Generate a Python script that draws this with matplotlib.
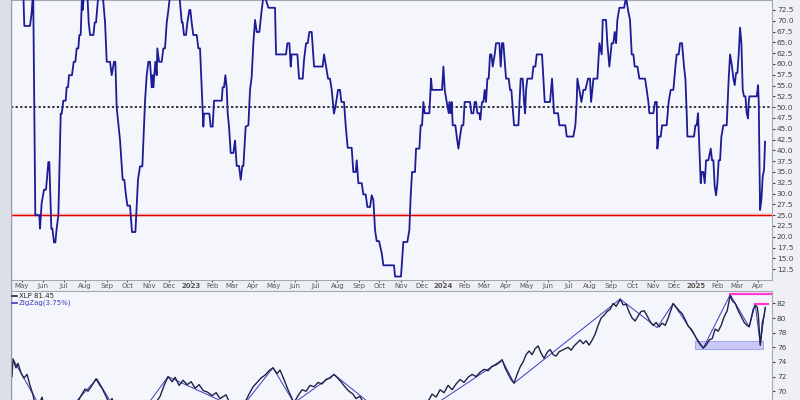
import numpy as np
import pandas as pd
import matplotlib
matplotlib.use("Agg")
import matplotlib.pyplot as plt
from matplotlib.patches import Rectangle
from matplotlib.lines import Line2D

# Tage seit dem 1. Mai 2022
start = pd.Timestamp("2022-05-01")

# Oszillator (oberes Panel)
osc_days = [2.4, 3.8, 12.0, 14.4, 16.6, 19.7, 25.5, 26.5, 28.9, 32.3, 35.2, 38.6, 40.0, 42.9, 44.4,
            46.8, 48.7, 50.6, 53.1, 56.5, 57.9, 60.3, 63.7, 65.1, 67.1, 68.5, 72.8, 75.3, 77.7, 79.6,
            82.0, 83.5, 85.4, 87.3, 88.3, 90.2, 95.1, 97.0, 99.0, 103.8, 105.7, 107.6, 111.0, 117.3,
            120.7, 123.1, 127.9, 130.3, 133.7, 135.6, 137.5, 142.4, 146.2, 148.6, 150.6, 153.0, 156.8,
            159.7, 164.6, 166.5, 168.4, 171.3, 174.7, 176.2, 178.6, 181.0, 183.4, 185.8, 188.2, 189.7,
            190.6, 193.5, 195.5, 196.4, 198.9, 202.7, 205.1, 207.5, 210.0, 212.4, 214.8, 228.3, 231.7,
            233.1, 235.0, 237.9, 239.9, 242.8, 244.2, 246.1, 248.5, 253.4, 255.8, 258.2,
            263.0, 264.0, 271.7, 273.6, 276.5, 278.5, 289.6, 291.0, 293.0, 294.9, 296.8, 298.3, 300.2,
            302.6, 306.5, 308.9, 311.3, 314.7, 317.1, 319.5, 321.0, 324.3, 328.2, 330.6, 333.0, 335.4,
            337.9, 340.3, 344.1, 347.5, 349.9, 352.3, 357.2, 366.8, 368.3, 382.7, 384.7, 387.6, 389.5,
            390.9, 399.2, 401.6, 406.9, 408.8, 411.7, 414.1, 416.5, 419.9, 423.3, 435.8, 437.8, 440.7,
            443.6, 446.4, 448.9, 452.2, 455.1, 458.0, 460.9, 462.9, 466.7, 469.1, 472.0, 477.8, 480.2,
            483.6, 485.1, 487.5, 492.3, 494.7, 498.1, 500.5, 504.4, 506.8, 509.2, 511.6, 514.0, 517.4,
            521.3, 523.7, 539.1, 540.6,
            549.2, 552.6, 558.4, 561.3, 563.2, 565.2, 569.5, 571.0, 575.8, 577.7, 579.7, 581.6, 583.5,
            590.3, 592.7, 594.1, 608.6, 610.6, 612.5, 615.4, 618.3, 619.2, 621.2, 622.6, 624.1, 627.9,
            629.9, 632.3, 634.7, 637.1, 639.5, 641.4, 649.2, 651.1, 654.0, 655.9, 657.9, 659.8, 662.7,
            664.1, 666.5, 668.5, 670.4, 672.3, 674.3, 676.2, 678.1, 680.1, 682.0, 684.9, 686.8, 691.6,
            693.6, 695.5, 697.4, 701.3, 705.2, 707.1, 709.0, 712.9, 719.2, 722.5, 725.4, 727.4, 728.8,
            730.3, 732.2, 739.0, 740.9, 743.8, 745.7, 753.4, 755.4, 757.3, 765.0, 767.9, 770.8, 776.6,
            778.5, 787.2, 789.2, 798.8, 801.7, 803.6, 804.6, 807.5, 810.4, 813.3, 816.2, 820.0, 822.9,
            824.4, 826.3, 827.8, 833.6, 836.5,
            839.8, 841.3, 846.1, 848.0, 850.9, 854.3, 856.7, 858.6, 860.6, 862.5, 865.4, 872.2, 875.1,
            877.9, 880.8, 883.3, 885.7, 887.6, 891.5, 894.4, 902.6, 905.0, 907.4, 908.8, 914.6, 917.1,
            919.5, 920.4, 922.4, 925.3, 927.2, 933.9, 936.8, 939.7, 943.6, 946.5, 948.4, 951.3, 953.2,
            956.1, 959.0, 961.0, 962.9, 963.9, 973.5, 975.5, 977.4, 979.3, 981.2, 983.2, 984.6, 987.0,
            989.0, 990.9, 994.3, 997.7, 999.6, 1001.5, 1003.5, 1005.4, 1007.3, 1009.2, 1011.2, 1013.1,
            1016.0, 1020.8, 1023.7, 1025.7, 1028.5, 1030.5, 1032.4, 1034.3, 1036.3, 1038.2, 1040.1,
            1042.1, 1044.0, 1045.9, 1047.9, 1049.8, 1051.7, 1052.7, 1053.6, 1064.3, 1066.2, 1067.2,
            1069.1, 1071.0, 1073.0, 1074.9, 1076.3]
osc_vals = [76.0, 68.8, 68.8, 71.8, 77.0, 25.0, 25.0, 21.9, 27.8, 30.9, 30.9, 37.3, 37.3, 21.9, 21.9,
            18.7, 18.7, 21.9, 25.0, 48.5, 48.5, 51.5, 51.5, 54.6, 54.6, 57.4, 57.4, 60.5, 60.5, 63.6,
            63.6, 66.7, 66.7, 76.0, 72.5, 76.0, 76.0, 69.6, 66.7, 66.7, 69.6, 69.6, 76.0, 76.0,
            69.6, 60.5, 60.5, 57.4, 60.5, 60.5, 50.0, 42.3, 33.2, 33.2, 30.1, 27.2, 27.2,
            21.1, 21.1, 27.2, 33.2, 36.3, 36.3, 42.3, 51.5, 57.4, 60.5, 60.5, 54.6, 57.4,
            54.6, 60.5, 57.4, 63.6, 60.5, 60.5, 63.6, 63.6, 69.6, 72.5, 76.0, 76.0, 69.6,
            69.6, 66.7, 66.7, 69.6, 72.5, 72.5, 69.6, 66.7, 66.7, 63.6, 63.6,
            45.5, 48.5, 48.5, 45.5, 45.5, 51.5, 51.5, 54.6, 54.6, 57.4, 54.6, 48.5, 45.5,
            39.4, 39.4, 42.3, 36.4, 36.4, 33.2, 36.4, 36.4, 45.5, 45.8, 54.0, 57.0, 64.8,
            70.2, 67.4, 67.4, 72.5, 75.5, 75.5, 73.0, 73.0, 62.2, 62.2, 64.8, 64.8, 59.4,
            62.2, 62.2, 56.6, 56.6, 60.9, 64.8, 64.8, 67.4, 67.4, 59.4, 59.4, 62.2, 59.4,
            56.6, 56.6, 54.0, 48.5, 50.9, 54.0, 54.0, 51.2, 51.2, 45.8, 40.6, 40.6, 35.0,
            35.0, 37.7, 32.4, 32.4, 29.8, 29.8, 26.9, 26.9, 29.6, 28.5, 21.6, 19.0, 19.0,
            16.2, 13.4, 13.4, 10.8,
            10.8, 18.8, 18.8, 21.6, 29.3, 35.0, 35.0, 40.4, 40.4, 45.8, 45.8, 51.2, 48.6,
            48.6, 56.6, 54.0, 54.0, 59.4, 54.0, 51.2, 48.6, 51.2, 48.6, 51.2, 45.8, 45.8,
            43.2, 40.4, 43.2, 45.8, 45.8, 51.2, 51.2, 48.6, 48.6, 51.2, 51.2, 48.6, 48.6,
            47.1, 51.2, 51.2, 54.0, 51.2, 56.6, 56.6, 62.2, 62.2, 59.4, 62.2, 64.8, 64.8,
            59.4, 64.8, 64.8, 56.6, 56.6, 54.0, 54.0, 45.8, 45.8, 56.6, 56.6, 51.2, 48.6,
            54.0, 56.6, 56.6, 59.4, 59.4, 62.2, 62.2, 56.6, 51.2, 51.2, 56.6, 48.6, 48.6,
            45.8, 45.8, 43.2, 43.2, 45.8, 51.2, 56.6, 54.0, 51.2, 54.0, 54.0, 56.6, 56.6,
            51.2, 54.0, 56.6, 56.6, 64.8,
            62.2, 70.2, 70.2, 64.8, 59.4, 64.8, 64.8, 67.4, 64.8, 70.2, 73.0, 73.0, 75.5,
            72.5, 70.2, 62.2, 62.2, 59.4, 59.4, 56.6, 56.6, 54.0, 51.2, 48.6, 48.6, 51.2,
            51.2, 40.4, 43.2, 43.2, 45.8, 45.8, 51.2, 54.0, 54.0, 59.4, 62.2, 62.2, 64.8,
            64.8, 59.4, 56.6, 48.6, 43.2, 43.2, 45.8, 45.8, 48.6, 40.4, 32.4, 35.0, 35.0,
            32.4, 37.7, 37.7, 40.4, 37.7, 37.7, 31.6, 29.6, 32.4, 37.7, 37.7, 43.2,
            45.8, 45.8, 56.6, 62.2, 59.4, 56.6, 55.1, 57.9, 57.9, 62.2, 68.4,
            64.8, 54.0, 52.5, 52.5, 48.6, 47.4, 51.2, 52.5, 52.5, 55.1, 51.2,
            26.2, 28.5, 34.0, 35.5, 42.0]

# XLP Kurs (unteres Panel)
xlp_days = [-14.0, -12.6, -8.3, -5.4, -1.0, 3.3, 7.7, 12.0, 16.4, 20.7, 26.5, 29.4, 33.7, 48.2, 62.7,
            77.2, 85.9, 91.7, 96.0, 101.8, 107.6, 111.9, 116.3, 122.1, 126.4, 130.8, 135.1, 149.6,
            164.1, 178.6, 193.1, 200.4, 206.2, 212.0, 217.8, 222.1, 227.9, 233.7, 239.5, 245.4, 251.1,
            256.9, 262.7, 268.5, 275.8, 281.6, 287.1, 295.9, 301.6, 313.2, 323.4, 329.2, 335.0, 340.7,
            346.5, 352.3, 358.1, 363.9, 369.7, 374.0, 379.8, 385.6, 389.9, 394.3, 400.1, 405.9, 411.7,
            417.5, 423.3, 429.0, 434.8, 440.6, 446.4, 452.2, 456.5, 462.3, 468.1, 473.9, 479.7, 484.0,
            489.8, 495.6, 504.3, 518.8, 533.3, 547.8, 562.3, 576.8, 588.4, 594.2, 600.0, 605.8, 611.6,
            617.4, 623.2, 629.0, 634.8, 640.5, 646.3, 652.1, 657.9, 663.7, 669.5, 675.3, 681.1, 686.9,
            692.7, 695.6, 699.9, 704.3, 708.6, 712.9, 717.3, 721.6, 726.0, 730.3, 734.7, 739.0, 743.4,
            747.7, 752.1, 756.4, 760.8, 765.1, 769.5, 773.8, 778.2, 782.5, 786.9, 791.2, 795.5, 799.9,
            804.2, 808.6, 812.9, 817.3, 821.6, 826.0, 830.3, 834.6, 839.0, 843.3, 847.7, 852.0, 856.4,
            860.7, 865.1, 866.5, 870.9, 875.2, 879.6, 883.9, 888.2, 892.6, 896.9, 901.3, 905.6, 910.0,
            914.3, 918.7, 923.0, 927.4, 931.7, 936.1, 940.4, 943.3, 947.6, 952.0, 956.3, 960.7, 965.0,
            969.4, 973.7, 978.1, 982.4, 986.8, 991.1, 995.4, 999.8, 1004.1, 1008.5, 1012.8, 1017.2,
            1021.5, 1025.9, 1028.8, 1033.1, 1037.5, 1041.8, 1046.2, 1050.5, 1053.4, 1056.3, 1059.2,
            1062.1, 1065.0, 1066.5, 1069.4, 1070.8, 1072.3, 1075.2, 1076.6]
xlp_vals = [72.0, 74.4, 73.2, 73.8, 72.5, 71.8, 72.3, 70.8, 69.5, 67.5, 68.5, 69.2, 67.0, 65.5, 66.5,
            67.8, 69.4, 70.3, 70.0, 70.8, 71.7, 71.0, 70.4, 69.3, 68.4, 69.0, 67.5, 65.0,
            65.5, 67.0, 68.3, 69.3, 70.8, 72.0, 71.3, 71.9, 70.8, 71.5, 70.9, 71.3, 70.4,
            70.9, 70.1, 69.9, 69.4, 69.8, 69.0, 69.5, 68.3, 67.5, 68.5, 69.6, 70.6, 71.2,
            71.8, 72.2, 72.8, 73.2, 72.4, 72.9, 71.6, 70.2, 69.3, 68.4, 69.4, 70.2, 70.0,
            70.8, 70.6, 71.2, 71.0, 71.6, 71.8, 72.3, 71.9, 71.3, 70.6, 70.0, 69.6, 69.0,
            69.3, 68.3, 67.0, 65.5, 65.2, 65.0, 66.8, 67.8, 68.6, 69.6, 69.2, 70.2, 69.8,
            70.8, 70.2, 71.0, 71.6, 71.2, 71.9, 72.3, 72.0, 72.6, 73.0, 72.8, 73.4, 73.6,
            74.0, 74.3, 73.2, 72.4, 71.6, 71.1, 72.3, 73.3, 74.0, 75.0, 75.5, 75.0, 75.8,
            76.2, 75.2, 74.5, 75.3, 75.7, 75.0, 74.8, 75.4, 75.6, 75.8, 76.0, 75.6, 76.2,
            76.6, 77.0, 76.5, 76.9, 76.3, 77.0, 77.8, 79.0, 80.0, 80.4, 80.9, 81.2, 82.0,
            81.6, 82.3, 82.6, 81.8, 81.9, 80.8, 80.0, 79.6, 80.3, 80.9, 81.0, 80.3, 79.5,
            79.0, 79.4, 78.8, 79.3, 79.0, 80.0, 81.2, 82.0, 81.5, 81.0, 80.6, 79.8, 78.9,
            78.5, 77.8, 77.0, 76.4, 75.9, 76.3, 77.0, 77.2, 78.5, 78.2, 79.0, 80.2,
            81.0, 83.1, 82.4, 82.0, 81.0, 80.2, 79.4, 79.0, 78.8, 80.0, 81.2,
            81.8, 81.5, 80.5, 76.3, 77.5, 79.3, 80.5, 81.45]

# ZigZag(3.75%) Wendepunkte
zz_days = [-12.6, 43.9, 109.0, 153.9, 211.8, 316.1, 363.9, 394.3, 452.2, 547.8, 695.6, 712.9,
           866.5, 920.0, 943.3, 986.8, 1025.9, 1053.4, 1062.1, 1069.4, 1076.6]
zz_vals = [74.4, 65.0, 71.7, 64.5, 72.0, 67.5, 73.2, 68.4, 72.3, 65.0, 74.3, 71.1,
           82.6, 78.7, 82.0, 75.9, 83.2, 78.8, 81.9, 76.3, 81.45]

# Markierungen
box_days = [974.9, 1073.4]
box_vals = [75.8, 76.9]
high_days = [1025.9, 1090.0]
high_val = 83.3
high2_days = [1062.1, 1080.6]
high2_val = 81.9

xlim_days = [-15.5, 1086.4]


def to_dates(d):
    return start + pd.to_timedelta(np.asarray(d, dtype=float), unit="D")


bg = "#f5f6fb"
edge = "#a4a8b4"

fig = plt.figure(figsize=(8, 4), dpi=100, facecolor="#eef0f5")
fig.patches.append(Rectangle((0, 0), 10 / 800, 1, transform=fig.transFigure,
                             facecolor="#dcdfe8", edgecolor="none"))
fig.add_artist(Line2D([10.5 / 800] * 2, [0, 1], color="#9a9eaa", lw=1))

ax1 = fig.add_axes([11 / 800, 120 / 400, 761 / 800, 280 / 400], facecolor=bg)
ax2 = fig.add_axes([11 / 800, 0, 761 / 800, 109 / 400], facecolor=bg)

# oberes Panel
ax1.axhline(25, color="#f8d0d0", lw=2.6, zorder=1)
ax1.axhline(25, color="#e00000", lw=1.0, zorder=2)
ax1.axhline(50, color="black", lw=1.1, ls=(0, (1.5, 1.5)), zorder=2)
ax1.plot(to_dates(osc_days), osc_vals, color="#1c1c96", lw=1.3, zorder=3)
ax1.set_ylim(10.0, 74.8)
ax1.set_yticks(np.arange(12.5, 73, 2.5))
ax1.set_yticklabels([f"{v:.1f}" for v in np.arange(12.5, 73, 2.5)])

months = pd.date_range("2022-05-01", "2025-04-01", freq="MS")
labels = [str(m.year) if m.month == 1 else m.strftime("%b") for m in months]
ax1.set_xticks(months)
ax1.set_xticklabels(labels)
for t, m in zip(ax1.get_xticklabels(), months):
    if m.month == 1:
        t.set_fontweight("bold")
        t.set_color("#222222")

# unteres Panel
ax2.add_patch(Rectangle((to_dates([box_days[0]])[0], box_vals[0]),
                        to_dates([box_days[1]])[0] - to_dates([box_days[0]])[0],
                        box_vals[1] - box_vals[0],
                        facecolor="#c9c9f7", edgecolor="#9a9ae8", lw=0.6, zorder=1))
ax2.plot(to_dates(high_days), [high_val] * 2, color="#ff3ccf", lw=1.6, zorder=4)
ax2.plot(to_dates(high2_days), [high2_val] * 2, color="#ff3ccf", lw=1.6, zorder=4)
ax2.plot(to_dates(zz_days), zz_vals, color="#3a3ac4", lw=0.7, zorder=2)
ax2.plot(to_dates(xlp_days), xlp_vals, color="#1b2444", lw=1.0, zorder=3)
ax2.set_ylim(68.8, 83.7)
ax2.set_yticks(np.arange(70, 83, 2))
ax2.set_xticks([])

for ax in (ax1, ax2):
    ax.set_xlim(to_dates(xlim_days))
    ax.yaxis.tick_right()
    ax.tick_params(axis="y", labelsize=5.3, length=2.5, pad=1, colors="#444444",
                   labelcolor="#444444")
    for s in ax.spines.values():
        s.set_color(edge)
        s.set_linewidth(0.8)

ax1.tick_params(axis="x", labelsize=5.0, length=1.5, pad=0.4, colors="#555555")

# Legende
fig.add_artist(Line2D([12 / 800, 17 / 800], [1 - 296 / 400] * 2, color="#1b2444", lw=1.2))
fig.add_artist(Line2D([12 / 800, 17 / 800], [1 - 303 / 400] * 2, color="#3a3ac4", lw=1.2))
fig.text(19 / 800, 1 - 296 / 400, "XLP 81.45", fontsize=5.0, color="#222222", va="center")
fig.text(19 / 800, 1 - 303 / 400, "ZigZag(3.75%)", fontsize=5.0, color="#3a3ac4", va="center")

plt.savefig("out.png", dpi=100, facecolor=fig.get_facecolor())
